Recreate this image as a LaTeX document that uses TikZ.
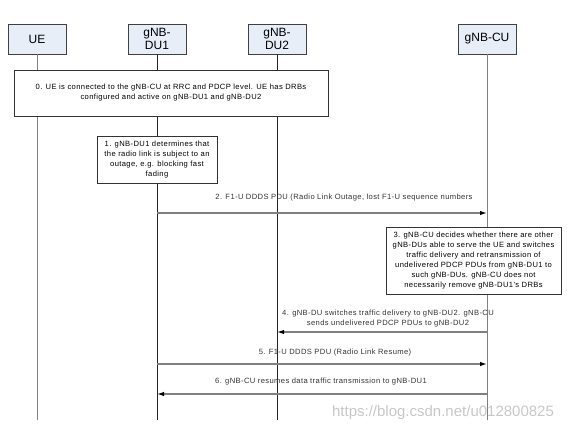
\documentclass[tikz,border=0pt]{standalone}
\usepackage{fontspec}
\setmainfont{Liberation Sans}
\newfontfamily\smallsans[LetterSpace=5]{Liberation Sans}
\usetikzlibrary{arrows.meta}

\definecolor{headfill}{RGB}{232,238,248}
\definecolor{linegray}{RGB}{128,128,128}

\tikzset{
  entity/.style={draw=black!75, fill=headfill, minimum width=58, minimum height=30,
    inner sep=1pt, align=center, font=\fontsize{12}{12.5}\selectfont},
  note/.style={draw=black!80, fill=white, align=center, inner sep=1pt,
    font=\smallsans\fontsize{7.6}{10}\selectfont},
  lbl/.style={align=center, inner sep=1pt, text=black!80, font=\smallsans\fontsize{7.6}{10}\selectfont},
  life/.style={draw=linegray, line width=0.8pt},
  msg/.style={draw=linegray, line width=1.3pt, -{Latex[color=black,length=7pt,width=4.5pt]}}
}

\begin{document}
\begin{tikzpicture}[x=1pt,y=-1pt]
\useasboundingbox (0,0) rectangle (567,432);

% entities
\node [entity] (ue)  at (37,39)  {UE};
\node [entity] (du1) at (157,39) {gNB-\\DU1};
\node [entity] (du2) at (277,39) {gNB-\\DU2};
\node [entity] (cu)  at (487,39) {gNB-CU};

\coordinate (bot) at (0,420);
\draw [life] (ue) -- (ue |- bot);
\draw [life, draw=black!85] (du1) -- (du1 |- bot);
\draw [life, draw=black!85] (du2) -- (du2 |- bot);
\draw [life] (cu) -- (cu |- bot);

% notes
\node [note, minimum width=314, minimum height=46] (n0) at (171,93)
  {0. UE is connected to the gNB-CU at RRC and PDCP level. UE has DRBs\\
   configured and active on gNB-DU1 and gNB-DU2};
\node [note, minimum width=120, minimum height=47] (n1) at (157,159.5)
  {1. gNB-DU1 determines that\\the radio link is subject to an\\outage, e.g. blocking fast\\fading};
\node [note, minimum width=175, minimum height=67] (n3) at (473.5,260.5)
  {3. gNB-CU decides whether there are other\\gNB-DUs able to serve the UE and switches\\
   traffic delivery and retransmission of\\undelivered PDCP PDUs from gNB-DU1 to\\
   such gNB-DUs. gNB-CU does not\\necessarily remove gNB-DU1's DRBs};

% messages
\coordinate (m2) at (0,213);
\draw [msg] (du1 |- m2) -- (cu |- m2);
\node [lbl] (l2) at (344,198) {2. F1-U DDDS PDU (Radio Link Outage, lost F1-U sequence numbers};

\coordinate (m4) at (0,332);
\draw [msg] (cu |- m4) -- (du2 |- m4);
\node [lbl] (l4) at (388,319) {4. gNB-DU switches traffic delivery to gNB-DU2. gNB-CU\\sends undelivered PDCP PDUs to gNB-DU2};

\coordinate (m5) at (0,364);
\draw [msg] (du1 |- m5) -- (cu |- m5);
\node [lbl] (l5) at (335,353) {5. F1-U DDDS PDU (Radio Link Resume)};

\coordinate (m6) at (0,394);
\draw [msg] (cu |- m6) -- (du1 |- m6);
\node [lbl] (l6) at (321,382) {6. gNB-CU resumes data traffic transmission to gNB-DU1};

\node [text=black!22, inner sep=0pt, font=\fontsize{15}{15}\selectfont] (wm) at (443,413) {https://blog.csdn.net/u012800825};
\end{tikzpicture}
\end{document}
